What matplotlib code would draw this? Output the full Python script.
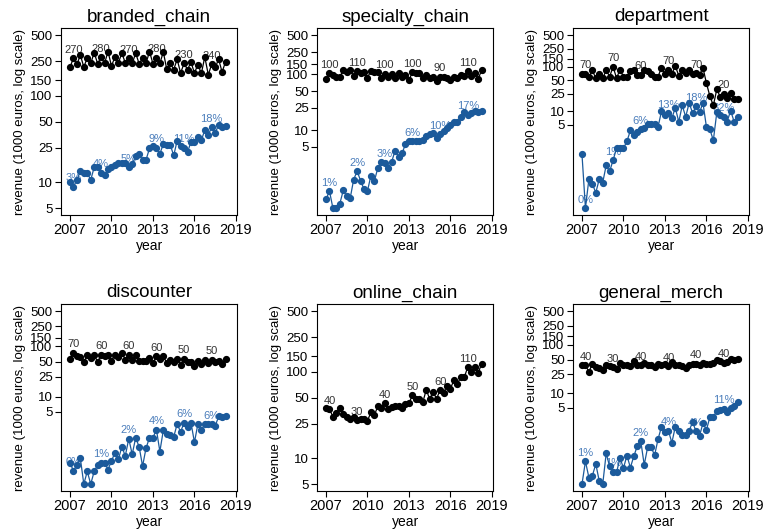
import numpy as np
import matplotlib
matplotlib.use('Agg')
import matplotlib.pyplot as plt
from matplotlib.ticker import NullLocator

plt.rcParams['font.family'] = ['Liberation Sans', 'DejaVu Sans']

# quarterly observations, 2007q1 .. 2018q2
quarters = np.arange(2007, 2018.26, 0.25)

# total revenue (black) and online revenue (blue), 1000 euros
branded_total = [214, 270, 230, 294, 215, 272, 236, 315, 234, 280, 236, 324, 220, 280, 240, 310,
                 240, 272, 236, 310, 234, 270, 236, 324, 234, 276, 236, 320, 201, 240, 200, 263,
                 183, 236, 200, 244, 183, 228, 181, 280, 175, 230, 212, 263, 188, 246]
branded_online = [9.9, 8.85, 10.6, 13.3, 12.9, 12.7, 10.6, 14.8, 14.8, 12.8, 12.1, 14.0, 14.8, 15.6,
                  16.5, 16.8, 16.8, 14.8, 16.2, 19.8, 20.9, 18.1, 18.1, 24.5, 25.9, 25.0, 21.3, 27.4,
                  27.0, 27.0, 20.3, 30.0, 26.2, 25.0, 22.0, 29.4, 29.4, 33.4, 30.5, 40.0, 35.3, 43.0,
                  36.6, 46.3, 43.9, 45.0]

specialty_total = [81, 105, 95, 91, 91, 117, 108, 117, 94, 112, 105, 109, 87, 116, 108, 108,
                   85, 102, 91, 101, 87, 105, 91, 98, 79, 108, 105, 105, 85, 98, 85, 88,
                   75, 91, 91, 85, 78, 91, 85, 95, 94, 112, 94, 105, 82, 117]
specialty_online = [0.57, 0.81, 0.40, 0.40, 0.48, 0.83, 0.66, 0.60, 1.29, 1.84, 1.24, 0.87, 0.81, 1.53,
                    1.22, 2.1, 2.7, 2.6, 2.1, 2.7, 4.3, 3.33, 3.83, 5.6, 6.3, 6.3, 6.3, 6.3,
                    6.7, 7.7, 8.55, 8.9, 7.2, 8.55, 9.8, 11.0, 12.3, 14.2, 14.2, 16.8, 20.8, 18.8,
                    20.6, 21.7, 20.8, 22.3]

department_total = [70, 70, 60, 82, 55, 68, 55, 83, 60, 99, 55, 86, 60, 60, 79, 83,
                    66, 66, 86, 79, 70, 60, 60, 94, 68, 86, 70, 102, 63, 86, 72, 86,
                    70, 72, 66, 94, 42.5, 21.9, 13.6, 31, 21.1, 25, 20.3, 26, 19.3, 19.3]
department_online = [1.10, 0.07, 0.31, 0.24, 0.155, 0.31, 0.26, 0.63, 0.46, 0.82, 1.51, 1.51, 1.51,
                     2.15, 3.76, 3.05, 3.51, 3.97, 4.34, 5.16, 5.16, 5.16, 4.5, 10.1, 8.5, 9.1,
                     7.1, 12.0, 5.86, 13.6, 7.6, 15.4, 9.2, 12.9, 9.5, 15.4, 4.5, 3.97, 2.27,
                     9.5, 8.5, 7.6, 5.96, 10.4, 5.96, 7.6]

discounter_total = [57, 75, 64, 61, 49, 67, 59, 67, 49, 69, 64, 69, 52, 69, 61, 75,
                    55, 69, 55, 69, 52, 52, 52, 59, 46.5, 64, 57, 64, 46.5, 55, 50, 57,
                    43, 57, 50, 50, 40, 52, 44, 55, 46.5, 55, 50, 52, 44, 57]
discounter_online = [0.49, 0.34, 0.44, 0.6, 0.185, 0.33, 0.185, 0.33, 0.44, 0.49, 0.49, 0.36, 0.53,
                     0.78, 0.57, 1.02, 0.67, 1.47, 0.72, 1.54, 1.02, 0.42, 0.96, 1.54, 1.54, 2.24,
                     0.82, 2.17, 1.86, 1.72, 1.59, 2.88, 2.01, 3.07, 2.54, 3.07, 1.25, 2.88, 2.17,
                     2.88, 2.88, 2.88, 2.62, 4.07, 3.9, 4.07]

online_total = [37.6, 36.8, 30.2, 33, 37.9, 32.4, 29.6, 28.3, 30.2, 27.5, 28, 28, 27.1, 33.7,
                31.5, 39.7, 37.9, 43.4, 36.8, 38.9, 39.7, 40.4, 37.9, 42.6, 43.4, 53, 48.4, 47.6,
                44.2, 61.4, 48.4, 58.1, 48.4, 61.4, 57, 68.4, 63.6, 79.6, 72.8, 85.8, 85.8, 112.7,
                100.2, 112.7, 95.7, 123]
online_online = None  # no separate online series for the pure online chain

general_total = [37.9, 38.6, 27.5, 41.1, 35.6, 33.4, 30.3, 37.9, 36.8, 35.1, 32.3, 43.2, 38.6,
                 38.6, 36.8, 47, 38.6, 37.9, 43.2, 38.6, 38.6, 35.1, 41.1, 37.9, 41.1, 36.8, 44.7,
                 38.6, 37.9, 36.8, 33.4, 38.6, 41.1, 41.1, 38.6, 43.2, 41.1, 41.1, 42, 48.3, 46,
                 43.2, 44.7, 50.7, 49.5, 52.5]
general_online = [0.132, 0.39, 0.18, 0.197, 0.343, 0.152, 0.132, 0.57, 0.306, 0.24, 0.23, 0.46,
                  0.283, 0.515, 0.29, 0.5, 0.81, 1.03, 0.33, 0.77, 0.77, 0.52, 1.12, 2.04, 1.55,
                  1.68, 0.95, 2.04, 1.63, 1.36, 1.36, 1.68, 2.53, 1.63, 1.32, 2.41, 1.74, 3.23,
                  3.23, 4.32, 4.6, 4.8, 4.1, 5.07, 5.4, 6.57]

# point labels, placed on the 2nd quarter of every odd year
label_quarters = [2007.25, 2009.25, 2011.25, 2013.25, 2015.25, 2017.25]
branded_total_lab = ["270", "280", "270", "280", "230", "240"]
branded_share_lab = ["3%", "4%", "5%", "9%", "11%", "18%"]
specialty_total_lab = ["100", "110", "100", "100", "90", "110"]
specialty_share_lab = ["1%", "2%", "3%", "6%", "10%", "17%"]
department_total_lab = ["70", "70", "60", "70", "70", "20"]
department_share_lab = ["0%", "1%", "6%", "13%", "18%", "32%"]
discounter_total_lab = ["70", "60", "60", "60", "50", "50"]
discounter_share_lab = ["0%", "1%", "2%", "4%", "6%", "6%"]
online_total_lab = ["40", "30", "40", "50", "60", "110"]
general_total_lab = ["40", "30", "40", "40", "40", "40"]
general_share_lab = ["1%", "1%", "2%", "4%", "4%", "11%"]

panels = [
    ("branded_chain", branded_total, branded_online, branded_total_lab, branded_share_lab),
    ("specialty_chain", specialty_total, specialty_online, specialty_total_lab, specialty_share_lab),
    ("department", department_total, department_online, department_total_lab, department_share_lab),
    ("discounter", discounter_total, discounter_online, discounter_total_lab, discounter_share_lab),
    ("online_chain", online_total, online_online, online_total_lab, None),
    ("general_merch", general_total, general_online, general_total_lab, general_share_lab),
]

yticks = [5, 10, 25, 50, 100, 150, 250, 500]
xticks = [2007, 2010, 2013, 2016, 2019]
BLUE = "#1b5a9b"
BLUE_TXT = "#4a7dbb"

W, H = 764, 529
fig = plt.figure(figsize=(W / 100, H / 100), dpi=100)
lefts = [61, 317, 573]
tops = [28.3, 304.3]
aw, ah = 176.3, 186.7

for k, (name, total, online, tlab, slab) in enumerate(panels):
    row, col = divmod(k, 3)
    ax = fig.add_axes([lefts[col] / W, 1 - (tops[row] + ah) / H, aw / W, ah / H])

    ax.plot(quarters, total, color='black', lw=0.9, marker='o', ms=4.2, zorder=3)
    vals = list(total)
    if online is not None:
        ax.plot(quarters, online, color=BLUE, lw=0.9, marker='o', ms=4.2, zorder=3)
        vals += list(online)

    for q, txt in zip(label_quarters, tlab):
        i = int(round((q - 2007) * 4))
        ax.annotate(txt, (quarters[i], total[i]), xytext=(0, 6), textcoords='offset points',
                    ha='center', va='center', fontsize=8, color='#333333', zorder=1)
    if slab is not None:
        for q, txt in zip(label_quarters, slab):
            i = int(round((q - 2007) * 4))
            ax.annotate(txt, (quarters[i], online[i]), xytext=(0, 6), textcoords='offset points',
                        ha='center', va='center', fontsize=8, color=BLUE_TXT, zorder=1)

    ax.set_yscale('log')
    lo = min(min(vals), 5)
    hi = max(max(vals), 500)
    ext = (hi / lo) ** 0.04
    ax.set_ylim(lo / ext, hi * ext)
    ax.set_xlim(2006.35, 2019.1)
    ax.set_yticks(yticks)
    ax.set_yticklabels([str(v) for v in yticks])
    ax.yaxis.set_minor_locator(NullLocator())
    ax.set_xticks(xticks)
    ax.set_xticklabels([str(v) for v in xticks])
    ax.tick_params(direction='out', length=4, width=0.8, pad=2, colors='black')
    ax.tick_params(axis='y', labelsize=9.5)
    ax.tick_params(axis='x', labelsize=10.5)
    for sp in ax.spines.values():
        sp.set_linewidth(0.8)

    ax.set_title(name, fontsize=13.5, pad=5)
    ax.set_xlabel("year", fontsize=10, labelpad=1)
    ax.set_ylabel("revenue (1000 euros, log scale)", fontsize=9.5, labelpad=3)

fig.savefig("out.png", dpi=100)
plt.close(fig)
